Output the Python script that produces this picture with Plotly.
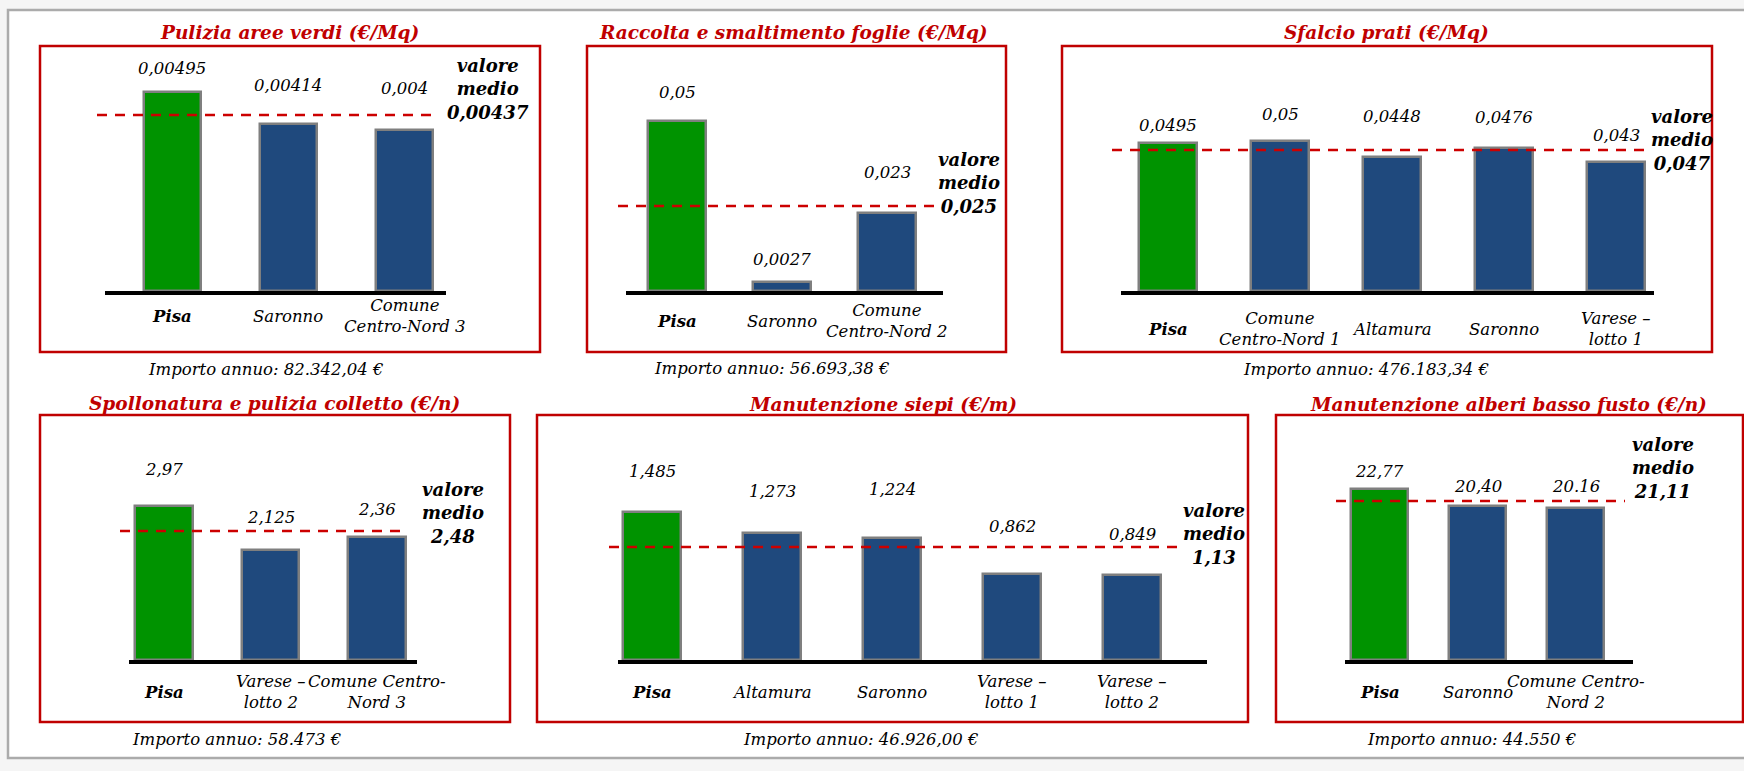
import plotly.graph_objects as go

W, H = 1744, 771

# ---------------- data ----------------
p1_title = "Pulizia aree verdi (€/Mq)"
p1_categories = ["Pisa", "Saronno", "Comune<br>Centro-Nord 3"]
p1_values = [0.00495, 0.00414, 0.004]
p1_value_labels = ["0,00495", "0,00414", "0,004"]
p1_average = 0.00437
p1_average_label = "0,00437"
p1_importo = "Importo annuo: 82.342,04 €"

p2_title = "Raccolta e smaltimento foglie (€/Mq)"
p2_categories = ["Pisa", "Saronno", "Comune<br>Centro-Nord 2"]
p2_values = [0.05, 0.0027, 0.023]
p2_value_labels = ["0,05", "0,0027", "0,023"]
p2_average = 0.025
p2_average_label = "0,025"
p2_importo = "Importo annuo: 56.693,38 €"

p3_title = "Sfalcio prati (€/Mq)"
p3_categories = ["Pisa", "Comune<br>Centro-Nord 1", "Altamura", "Saronno", "Varese –<br>lotto 1"]
p3_values = [0.0495, 0.05, 0.0448, 0.0476, 0.043]
p3_value_labels = ["0,0495", "0,05", "0,0448", "0,0476", "0,043"]
p3_average = 0.047
p3_average_label = "0,047"
p3_importo = "Importo annuo: 476.183,34 €"

p4_title = "Spollonatura e pulizia colletto (€/n)"
p4_categories = ["Pisa", "Varese –<br>lotto 2", "Comune Centro-<br>Nord 3"]
p4_values = [2.97, 2.125, 2.36]
p4_value_labels = ["2,97", "2,125", "2,36"]
p4_average = 2.48
p4_average_label = "2,48"
p4_importo = "Importo annuo: 58.473 €"

p5_title = "Manutenzione siepi (€/m)"
p5_categories = ["Pisa", "Altamura", "Saronno", "Varese –<br>lotto 1", "Varese –<br>lotto 2"]
p5_values = [1.485, 1.273, 1.224, 0.862, 0.849]
p5_value_labels = ["1,485", "1,273", "1,224", "0,862", "0,849"]
p5_average = 1.13
p5_average_label = "1,13"
p5_importo = "Importo annuo: 46.926,00 €"

p6_title = "Manutenzione alberi basso fusto (€/n)"
p6_categories = ["Pisa", "Saronno", "Comune Centro-<br>Nord 2"]
p6_values = [22.77, 20.40, 20.16]
p6_value_labels = ["22,77", "20,40", "20.16"]
p6_average = 21.11
p6_average_label = "21,11"
p6_importo = "Importo annuo: 44.550 €"

data = [
    dict(title=p1_title, cats=p1_categories, vals=p1_values, labels=p1_value_labels,
         avg=p1_average, avg_label=p1_average_label, importo=p1_importo),
    dict(title=p2_title, cats=p2_categories, vals=p2_values, labels=p2_value_labels,
         avg=p2_average, avg_label=p2_average_label, importo=p2_importo),
    dict(title=p3_title, cats=p3_categories, vals=p3_values, labels=p3_value_labels,
         avg=p3_average, avg_label=p3_average_label, importo=p3_importo),
    dict(title=p4_title, cats=p4_categories, vals=p4_values, labels=p4_value_labels,
         avg=p4_average, avg_label=p4_average_label, importo=p4_importo),
    dict(title=p5_title, cats=p5_categories, vals=p5_values, labels=p5_value_labels,
         avg=p5_average, avg_label=p5_average_label, importo=p5_importo),
    dict(title=p6_title, cats=p6_categories, vals=p6_values, labels=p6_value_labels,
         avg=p6_average, avg_label=p6_average_label, importo=p6_importo),
]

# ---------------- layout (pixels) ----------------
FONT = "DejaVu Serif"
FS, IFS, TFS, VFS = 16.5, 16.5, 18.5, 18
layout_cfg = [
    dict(bx=(105, 446), c=(172, 404.5), base=291, top=46, scale=40300, bw=57, ax=(97, 438),
         box=(40, 46, 540, 352), tt=(289, 33), vm=(488, 89), imp=(266, 369), caty=316,
         off=[23.5, 39, 41]),
    dict(bx=(626, 943), c=(677, 887), base=291, top=46, scale=3400, bw=58, ax=(618, 935),
         box=(587, 46, 1006, 352), tt=(793, 33), vm=(969, 183), imp=(772, 368), caty=321,
         off=[29, 22, 40]),
    dict(bx=(1121, 1654), c=(1168, 1616), base=291, top=46, scale=3000, bw=58, ax=(1112, 1646),
         box=(1062, 46, 1712, 352), tt=(1386, 33), vm=(1682, 140), imp=(1366, 369), caty=329,
         off=[17.5, 27, 40, 31, 27]),
    dict(bx=(129, 417), c=(164, 377), base=660, top=415, scale=52, bw=57.5, ax=(120, 408),
         box=(40, 415, 510, 722), tt=(274, 403), vm=(453, 513), imp=(236, 739), caty=692,
         off=[36, 32.5, 28]),
    dict(bx=(618, 1207), c=(652, 1132), base=660, top=415, scale=100, bw=57.5, ax=(609, 1181),
         box=(537, 415, 1248, 722), tt=(883, 404), vm=(1214, 534), imp=(861, 739), caty=692,
         off=[40, 41, 48, 47, 41]),
    dict(bx=(1345, 1633), c=(1379.5, 1575.5), base=660, top=415, scale=7.53, bw=57, ax=(1336, 1625),
         box=(1276, 415, 1743, 722), tt=(1508, 404), vm=(1663, 468), imp=(1471, 739), caty=692,
         off=[17.5, 19.5, 22]),
]

GREEN = "#009300"
BLUE = "#1F497D"
RED = "#C00000"
OUTLINE = "#7F7F7F"


def px(p):
    return p / W


def py(p):
    return 1 - p / H


fig = go.Figure()
shapes = []
annotations = []

# outer frame
shapes.append(dict(type="rect", xref="paper", yref="paper", x0=px(8), x1=px(1760),
                   y0=py(758), y1=py(10), fillcolor="white",
                   line=dict(color="#ABABAB", width=2.5), layer="below"))

for i, (d, L) in enumerate(zip(data, layout_cfg), start=1):
    n = len(d["cats"])
    s = (L["c"][1] - L["c"][0]) / (n - 1)
    xr = [-(L["c"][0] - L["bx"][0]) / s, (L["bx"][1] - L["c"][0]) / s]
    yr = [0, (L["base"] - L["top"]) / L["scale"]]
    xa = "x" if i == 1 else f"x{i}"
    ya = "y" if i == 1 else f"y{i}"
    colors = [GREEN] + [BLUE] * (n - 1)
    fig.add_trace(go.Bar(
        x=d["cats"], y=d["vals"], xaxis=xa, yaxis=ya, width=L["bw"] / s,
        marker=dict(color=colors, line=dict(color=OUTLINE, width=2.5)),
        hoverinfo="skip", showlegend=False))
    sfx = "" if i == 1 else str(i)
    fig.layout["xaxis" + sfx] = dict(
        domain=[px(L["bx"][0]), px(L["bx"][1])], range=xr, anchor=ya, type="category",
        showline=True, linecolor="black", linewidth=3.5, showticklabels=False,
        ticks="", showgrid=False, zeroline=False, fixedrange=True)
    fig.layout["yaxis" + sfx] = dict(
        domain=[py(L["base"]), py(L["top"])], range=yr, anchor=xa, visible=False,
        fixedrange=True)

    # red panel box
    x0, y0, x1, y1 = L["box"]
    shapes.append(dict(type="rect", xref="paper", yref="paper", x0=px(x0), x1=px(x1),
                       y0=py(y1), y1=py(y0), line=dict(color=RED, width=2.5), layer="below"))
    # average dashed line
    shapes.append(dict(type="line", xref="paper", yref=ya, x0=px(L["ax"][0]), x1=px(L["ax"][1]),
                       y0=d["avg"], y1=d["avg"],
                       line=dict(color="#CC0000", width=2.5, dash="10px,8px"), layer="above"))
    # title
    annotations.append(dict(text=f"<b><i>{d['title']}</i></b>", xref="paper", yref="paper",
                            x=px(L["tt"][0]), y=py(L["tt"][1]), xanchor="center", yanchor="middle",
                            showarrow=False, font=dict(family=FONT, size=TFS, color=RED)))
    # valore medio
    annotations.append(dict(text=f"<b><i>valore<br>medio<br>{d['avg_label']}</i></b>",
                            xref="paper", yref="paper", x=px(L["vm"][0]), y=py(L["vm"][1]),
                            xanchor="center", yanchor="middle", align="center", showarrow=False,
                            font=dict(family=FONT, size=VFS, color="black")))
    # importo
    annotations.append(dict(text=f"<i>{d['importo']}</i>", xref="paper", yref="paper",
                            x=px(L["imp"][0]), y=py(L["imp"][1]), xanchor="center", yanchor="middle",
                            showarrow=False, font=dict(family=FONT, size=IFS, color="black")))
    for j, (cat, val, lab) in enumerate(zip(d["cats"], d["vals"], d["labels"])):
        annotations.append(dict(text=f"<i>{lab}</i>", xref=xa, yref=ya, x=cat, y=val,
                                yshift=L["off"][j], xanchor="center", yanchor="middle",
                                showarrow=False, font=dict(family=FONT, size=FS, color="black")))
        ctext = f"<b><i>{cat}</i></b>" if j == 0 else f"<i>{cat}</i>"
        annotations.append(dict(text=ctext, xref=xa, yref="paper", x=cat, y=py(L["caty"]),
                                xanchor="center", yanchor="middle", align="center", showarrow=False,
                                font=dict(family=FONT, size=FS, color="black")))

fig.update_layout(
    width=W, height=H, autosize=False,
    margin=dict(l=0, r=0, t=0, b=0, pad=0),
    paper_bgcolor="#F5F5F5", plot_bgcolor="rgba(0,0,0,0)",
    bargap=0, shapes=shapes, annotations=annotations, showlegend=False,
)

fig.write_html("out.html", config={"displayModeBar": False},
               post_script="document.body.style.margin='0';document.body.style.overflow='hidden';")
